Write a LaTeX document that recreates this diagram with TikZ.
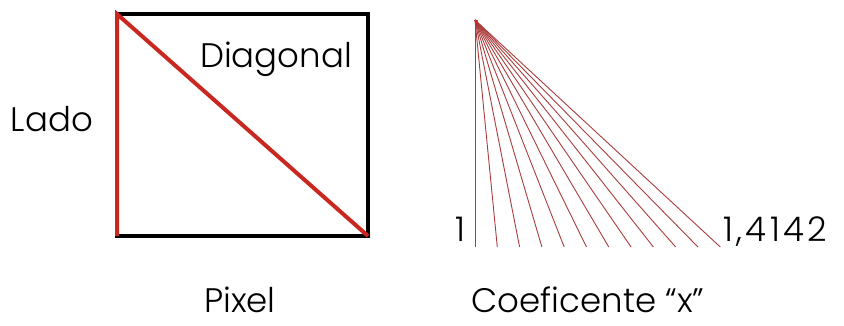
\documentclass[tikz,border=0pt]{standalone}
\usepackage{fontspec}
\setmainfont{Poppins}[UprightFont=* Light]
\usetikzlibrary{positioning, calc}
\definecolor{pixred}{RGB}{200,40,32}
\definecolor{fanred}{RGB}{170,60,60}

\begin{document}
\begin{tikzpicture}[
            x=1pt, y=-1pt,
            lbl/.style={font=\fontsize{34}{40}\selectfont, inner sep=0pt, anchor=base},
            frame/.style={draw=black, line width=4.5pt},
            red edge/.style={draw=pixred, line width=4pt},
            ray/.style={draw=fanred, line width=0.9pt},
        ]
            \useasboundingbox (0,0) rectangle (844,325);

            % Pixel square
            \coordinate (tl) at (117,14);
            \coordinate (br) at (368,236);
            \draw[frame] (tl) rectangle (br);
            \draw[red edge] (tl |- br) -- (tl) -- (br);

            \node[lbl] (lado)     at (52,131)  {Lado};
            \node[lbl] (diagonal) at (276,67)  {Diagonal};
            \node[lbl] (pixel)    at (240,312) {Pixel};

            % Coefficient fan
            \coordinate (apex) at (475,20);
            \foreach \i in {0,...,11} {
                \coordinate (end\i) at ({475+22.3*\i},247);
                \draw[ray] (apex) -- (end\i);
            }
            \fill[pixred] (apex) -- ++(3,0) -- ++(-3,8) -- cycle;

            \node[lbl, anchor=base east] (one)  at (466,241) {1};
            \node[lbl, anchor=base west] (root) at (723,241)
                {\addfontfeature{LetterSpace=10}1,4142};
            \node[lbl] (coef) at (588,312) {Coeficente “x”};
        \end{tikzpicture}
\end{document}
